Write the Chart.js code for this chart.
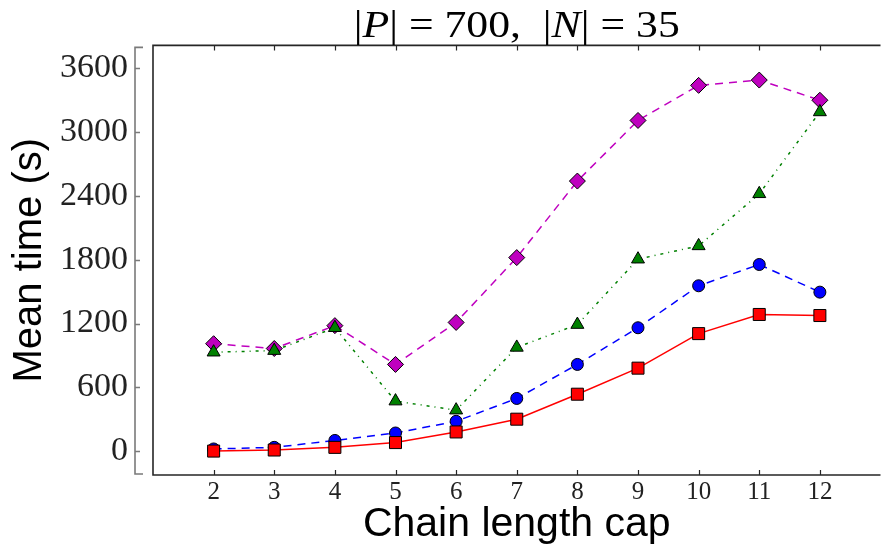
<!DOCTYPE html>
<html>
<head>
<meta charset="utf-8">
<title>Mean time vs chain length cap</title>
<script src="https://cdn.jsdelivr.net/npm/chart.js@4/dist/chart.umd.min.js"></script>
<style>
  html, body { margin: 0; padding: 0; background: #fff; overflow: hidden; }
  /* the figure is a little wider than the window: its right edge is cut off, like the source */
  #wrap { position: relative; width: 890px; height: 551px; }
</style>
</head>
<body>
<div id="wrap"><canvas id="chart"></canvas></div>
<script>
/* ============================
   DATA
   ============================ */
const capValues = [2, 3, 4, 5, 6, 7, 8, 9, 10, 11, 12];

const redSquares      = [0, 10, 35, 80, 180, 300, 535, 780, 1105, 1285, 1275];
const blueCircles     = [20, 35, 100, 170, 280, 495, 815, 1160, 1555, 1755, 1495];
const greenTriangles  = [930, 945, 1160, 470, 385, 975, 1190, 1805, 1930, 2420, 3190];
const magentaDiamonds = [1010, 965, 1180, 815, 1210, 1820, 2540, 3110, 3440, 3490, 3300];

const yTicks = [0, 600, 1200, 1800, 2400, 3000, 3600];

const toPoints = (vals) => capValues.map((c, i) => ({ x: c, y: vals[i] }));

/* ============================
   FRAME, TICKS, OFFSET SPINE, TITLE
   ============================ */
const decorations = {
  id: "decorations",
  beforeDatasetsDraw(chart) {
    const { ctx, chartArea: a, scales } = chart;
    const x = scales.x, y = scales.y;
    ctx.save();

    // frame: left, top and bottom (right side is off screen)
    ctx.strokeStyle = "#262626";
    ctx.lineWidth = 1.6;
    ctx.beginPath();
    ctx.moveTo(a.right, a.top);
    ctx.lineTo(a.left, a.top);
    ctx.lineTo(a.left, a.bottom);
    ctx.lineTo(a.right, a.bottom);
    ctx.stroke();

    // inward x ticks, top and bottom
    ctx.lineWidth = 1.2;
    ctx.beginPath();
    capValues.forEach((v) => {
      const px = Math.round(x.getPixelForValue(v)) + 0.5;
      ctx.moveTo(px, a.top);
      ctx.lineTo(px, a.top + 5);
      ctx.moveTo(px, a.bottom);
      ctx.lineTo(px, a.bottom - 5);
    });
    ctx.stroke();

    // detached y spine
    const sx = a.left - 18;
    ctx.strokeStyle = "#7a7a7a";
    ctx.lineWidth = 1.6;
    ctx.beginPath();
    ctx.moveTo(sx + 8, a.top + 2);
    ctx.lineTo(sx, a.top + 2);
    ctx.lineTo(sx, a.bottom - 1);
    ctx.lineTo(sx + 8, a.bottom - 1);
    yTicks.forEach((v) => {
      const py = Math.round(y.getPixelForValue(v)) + 0.5;
      ctx.moveTo(sx, py);
      ctx.lineTo(sx + 5, py);
    });
    ctx.stroke();
    ctx.restore();
  },
  afterDraw(chart) {
    const { ctx, chartArea: a } = chart;
    const up = "38px 'Liberation Serif'";
    const it = "italic 38px 'Liberation Serif'";
    const parts = [
      ["|", up], ["P", it], ["|", up], [" = 700,  ", up],
      ["|", up], ["N", it], ["|", up], [" = 35", up],
    ];
    ctx.save();
    let total = 0;
    parts.forEach(([t, f]) => { ctx.font = f; total += ctx.measureText(t).width; });
    const stretch = 326 / total;
    const cx = (a.left + a.right) / 2;
    ctx.translate(cx - (total * stretch) / 2, 37);
    ctx.scale(stretch, 1);
    ctx.fillStyle = "#000";
    ctx.textBaseline = "alphabetic";
    let pos = 0;
    parts.forEach(([t, f]) => {
      ctx.font = f;
      ctx.fillText(t, pos, 0);
      pos += ctx.measureText(t).width;
    });
    ctx.restore();
  },
};

/* ============================
   CHART
   ============================ */
const series = [
  { data: redSquares,      color: "#ff0000", style: "rect",     radius: 8.5, dash: [] },
  { data: blueCircles,     color: "#0000ff", style: "circle",   radius: 6,   dash: [8, 6] },
  { data: greenTriangles,  color: "#008000", style: "triangle", radius: 7.5, dash: [3, 5, 1, 5] },
  { data: magentaDiamonds, color: "#bf00bf", style: "rectRot",  radius: 8,   dash: [8, 6] },
];

new Chart(document.getElementById("chart"), {
  type: "line",
  data: {
    datasets: series.map((s) => ({
      data: toPoints(s.data),
      borderColor: s.color,
      borderWidth: 1.5,
      borderDash: s.dash,
      backgroundColor: s.color,
      pointStyle: s.style,
      pointRadius: s.radius,
      pointBackgroundColor: s.color,
      pointBorderColor: "#000",
      pointBorderWidth: 1,
      tension: 0,
      clip: false,
    })),
  },
  options: {
    responsive: true,
    maintainAspectRatio: false,
    animation: false,
    layout: { padding: { top: 44, right: 4, left: 0, bottom: 0 } },
    plugins: { legend: { display: false }, tooltip: { enabled: false } },
    scales: {
      x: {
        type: "linear",
        min: 1,
        max: 13,
        afterBuildTicks: (s) => { s.ticks = capValues.map((v) => ({ value: v })); },
        afterFit: (s) => { s.height = 76; },
        grid: { display: false, drawTicks: false },
        border: { display: false },
        ticks: {
          padding: 2,
          color: "#222",
          font: { family: "'Liberation Serif'", size: 25 },
          callback: (v) => String(v),
        },
        title: {
          display: true,
          text: "Chain length cap",
          color: "#000",
          font: { family: "'Liberation Sans'", size: 41 },
          padding: { top: 0, bottom: 2 },
        },
      },
      y: {
        min: -225,
        max: 3816,
        afterBuildTicks: (s) => { s.ticks = yTicks.map((v) => ({ value: v })); },
        afterFit: (s) => { s.width = 153; },
        grid: { display: false, drawTicks: false },
        border: { display: false },
        ticks: {
          padding: 25,
          color: "#222",
          font: { family: "'Liberation Serif'", size: 34 },
          callback: (v) => String(v),
        },
        title: {
          display: true,
          text: "Mean time (s)",
          color: "#000",
          font: { family: "'Liberation Sans'", size: 40 },
          padding: { top: 6, bottom: 0 },
        },
      },
    },
  },
  plugins: [decorations],
});
</script>
</body>
</html>
